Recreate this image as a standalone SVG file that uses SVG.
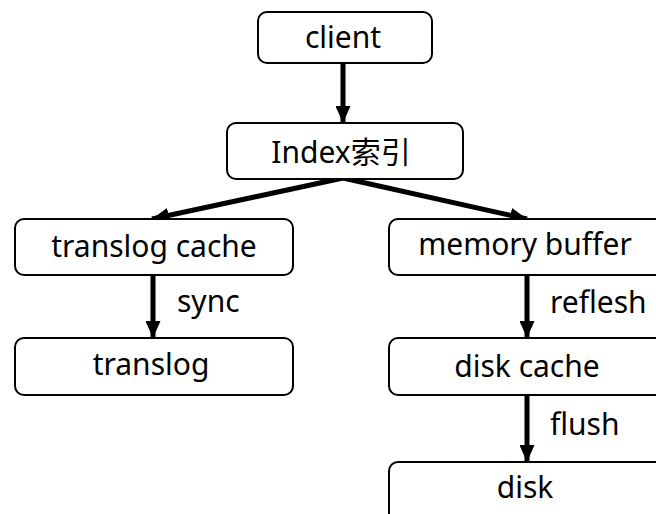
<svg xmlns="http://www.w3.org/2000/svg" width="656" height="514" viewBox="0 0 656 514">
  <style>
    .box { fill: #ffffff; stroke: #000000; stroke-width: 2; }
    .label { font-family: "Noto Sans", "Noto Sans CJK SC", sans-serif; font-size: 30px; fill: #000000; text-anchor: middle; }
    .edge-label { font-family: "Noto Sans", "Noto Sans CJK SC", sans-serif; font-size: 30px; fill: #000000; }
    .link { stroke: #000000; stroke-width: 5; fill: none; marker-end: url(#head); }
  </style>
  <defs>
    <marker id="head" markerUnits="userSpaceOnUse" markerWidth="17" markerHeight="15" viewBox="0 0 17 15" refX="17" refY="7.5" orient="auto">
      <path d="M0,0 L17,7.5 L0,15 Z" fill="#000000"/>
    </marker>
  </defs>
  <rect width="656" height="514" fill="#ffffff"/>

  <g id="connectors">
    <line class="link" x1="343" y1="63" x2="343" y2="123"/>
    <line class="link" x1="343" y1="178" x2="152" y2="219"/>
    <line class="link" x1="343" y1="178" x2="527" y2="219"/>
    <line class="link" x1="153" y1="275" x2="153" y2="338"/>
    <line class="link" x1="527" y1="275" x2="527" y2="338"/>
    <line class="link" x1="527" y1="395" x2="527" y2="462"/>
    <text class="edge-label" x="177" y="312">sync</text>
    <text class="edge-label" x="550" y="313">reflesh</text>
    <text class="edge-label" x="550" y="435">flush</text>
  </g>

  <g id="client">
    <rect class="box" x="258" y="12" width="174" height="51" rx="9"/>
    <text class="label" x="343" y="48">client</text>
  </g>
  <g id="index">
    <rect class="box" x="227" y="123" width="236" height="56" rx="9"/>
    <text class="label" x="341" y="163">Index索引</text>
  </g>
  <g id="translog-cache">
    <rect class="box" x="15" y="219" width="278" height="56" rx="9"/>
    <text class="label" x="154" y="257">translog cache</text>
  </g>
  <g id="translog">
    <rect class="box" x="15" y="338" width="278" height="57" rx="9"/>
    <text class="label" x="151" y="375">translog</text>
  </g>
  <g id="memory-buffer">
    <rect class="box" x="389" y="219" width="276" height="56" rx="9"/>
    <text class="label" x="525" y="255">memory buffer</text>
  </g>
  <g id="disk-cache">
    <rect class="box" x="389" y="338" width="276" height="57" rx="9"/>
    <text class="label" x="527" y="377">disk cache</text>
  </g>
  <g id="disk">
    <rect class="box" x="389" y="462" width="276" height="60" rx="9"/>
    <text class="label" x="525" y="498">disk</text>
  </g>
</svg>
